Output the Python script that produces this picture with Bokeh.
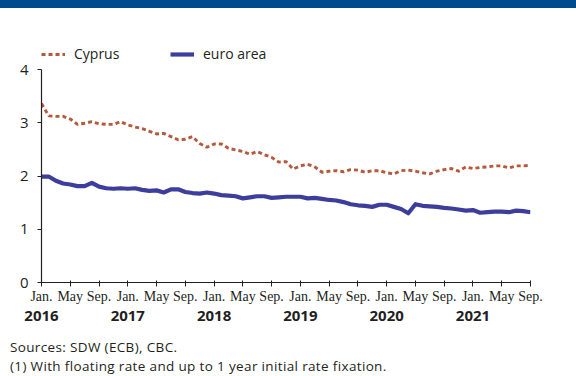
import pandas as pd
from bokeh.plotting import figure
from bokeh.models import (FixedTicker, LinearAxis, Legend, LegendItem,
                          Range1d, ColumnDataSource, Div)
from bokeh.layouts import column
from bokeh.embed import file_html
from bokeh.resources import INLINE

# ---------------- data ----------------
months = [str(p) for p in pd.period_range("2016-01", "2021-09", freq="M")]

cyprus = [3.36, 3.13, 3.12, 3.12, 3.07, 2.97, 2.99, 3.02, 2.98, 2.97, 2.97, 3.02,
          2.96, 2.92, 2.89, 2.84, 2.79, 2.80, 2.74, 2.68, 2.69, 2.74, 2.61, 2.54,
          2.60, 2.60, 2.52, 2.49, 2.46, 2.41, 2.46, 2.40, 2.35, 2.26, 2.27, 2.13,
          2.19, 2.22, 2.17, 2.07, 2.09, 2.10, 2.08, 2.12, 2.11, 2.07, 2.10, 2.10,
          2.06, 2.04, 2.10, 2.11, 2.09, 2.06, 2.04, 2.09, 2.12, 2.14, 2.09, 2.17,
          2.14, 2.16, 2.17, 2.19, 2.19, 2.15, 2.19, 2.19, 2.20]

euro_area = [1.99, 1.99, 1.91, 1.86, 1.84, 1.81, 1.81, 1.87, 1.80, 1.77, 1.76, 1.77,
             1.76, 1.77, 1.74, 1.72, 1.73, 1.69, 1.75, 1.75, 1.70, 1.68, 1.67, 1.69,
             1.67, 1.64, 1.63, 1.62, 1.58, 1.60, 1.62, 1.62, 1.59, 1.60, 1.61, 1.61,
             1.61, 1.58, 1.59, 1.57, 1.55, 1.54, 1.51, 1.47, 1.45, 1.44, 1.42, 1.46,
             1.46, 1.42, 1.38, 1.30, 1.47, 1.44, 1.43, 1.42, 1.40, 1.39, 1.37, 1.35,
             1.36, 1.31, 1.32, 1.33, 1.33, 1.32, 1.35, 1.34, 1.32]

month_tick_names = {"01": "Jan.", "05": "May", "09": "Sep."}
y_ticks = [0, 1, 2, 3, 4]
series_names = ["Cyprus", "euro area"]
footnotes = ["Sources: SDW (ECB), CBC.",
             "(1) With floating rate and up to 1 year initial rate fixation."]

# ---------------- styles ----------------
TXT = "#231f20"
CY_COL = "#b5593c"
EA_COL = "#3d3e9c"
BAND = "#004b8d"
FONT = "Open Sans"
NARROW = "Liberation Sans Narrow"

x = list(range(len(months)))
src = ColumnDataSource(dict(x=x, cy=cyprus, ea=euro_area))

month_ticks = [i for i, m in enumerate(months) if m[5:] in month_tick_names]
month_labels = {i: month_tick_names[months[i][5:]] for i in month_ticks}
year_ticks = [i for i, m in enumerate(months) if m[5:] == "01"]
year_labels = {i: months[i][:4] for i in year_ticks}

# frame spans page y 40..282; value 4 sits at y 69 -> top of range 4*242/213
p = figure(width=576, height=330, output_backend="svg", toolbar_location=None,
           x_range=Range1d(0, len(months) - 1), y_range=Range1d(0, 4 * 242 / 213),
           x_axis_type=None, y_axis_type=None,
           min_border_left=41, min_border_right=46,
           min_border_top=32, min_border_bottom=56)
p.outline_line_color = None
p.xgrid.visible = False
p.ygrid.visible = False
p.background_fill_color = "white"
p.border_fill_color = "white"

# y axis
yax = LinearAxis(ticker=FixedTicker(ticks=y_ticks), bounds=(0, 4))
yax.axis_line_color = TXT
yax.axis_line_width = 1.2
yax.major_tick_line_color = TXT
yax.major_tick_in = 0
yax.major_tick_out = 4
yax.minor_tick_line_color = None
yax.major_label_text_font = FONT
yax.major_label_text_font_size = "15px"
yax.major_label_text_color = TXT
yax.major_label_standoff = 9
p.add_layout(yax, "left")

# x axis (months)
xax = LinearAxis(ticker=FixedTicker(ticks=month_ticks))
xax.major_label_overrides = month_labels
xax.axis_line_color = TXT
xax.axis_line_width = 1.2
xax.major_tick_line_color = TXT
xax.major_tick_in = 2
xax.major_tick_out = 4
xax.minor_tick_line_color = None
xax.major_label_text_font = NARROW
xax.major_label_text_font_size = "14px"
xax.major_label_text_color = TXT
xax.major_label_standoff = 2
p.add_layout(xax, "below")

# x axis (years)
yrax = LinearAxis(ticker=FixedTicker(ticks=year_ticks))
yrax.major_label_overrides = year_labels
yrax.axis_line_color = None
yrax.major_tick_line_color = None
yrax.major_tick_in = 0
yrax.major_tick_out = 0
yrax.minor_tick_line_color = None
yrax.major_label_text_font = FONT
yrax.major_label_text_font_style = "bold"
yrax.major_label_text_font_size = "15px"
yrax.major_label_text_color = TXT
yrax.major_label_standoff = 4
p.add_layout(yrax, "below")

r_cy = p.line("x", "cy", source=src, line_color=CY_COL, line_width=2.9,
              line_dash="4 3")
r_ea = p.line("x", "ea", source=src, line_color=EA_COL, line_width=4.2,
              line_join="round")

lg = Legend(items=[LegendItem(label=series_names[0], renderers=[r_cy]),
                   LegendItem(label=series_names[1], renderers=[r_ea])],
            location=(0, 219), orientation="horizontal")
lg.background_fill_alpha = 0
lg.border_line_color = None
lg.padding = 0
lg.margin = 0
lg.spacing = 0
lg.glyph_width = 24
lg.glyph_height = 18
lg.label_height = 18
lg.label_width = 96
lg.label_standoff = 9
lg.label_text_font = FONT
lg.label_text_font_size = "14px"
lg.label_text_color = TXT
p.add_layout(lg)

band = Div(width=576, height=8, margin=0, styles={"background-color": BAND})
notes = Div(text="<br>".join(footnotes), width=576, height=38, margin=0,
            styles={"font-family": FONT, "font-size": "13.5px", "color": TXT,
                    "line-height": "18.5px", "letter-spacing": "0.35px",
                    "padding-left": "10px", "padding-top": "0px",
                    "box-sizing": "border-box", "background-color": "white"})
layout = column(band, p, notes, spacing=0)

html = file_html(layout, INLINE)
html = html.replace("</head>", "<style>html,body{margin:0;padding:0;}</style></head>", 1)
open("out.html", "w").write(html)
